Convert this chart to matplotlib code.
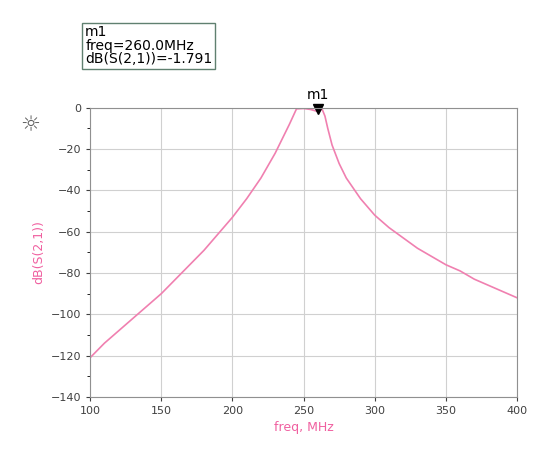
import matplotlib
matplotlib.use("Agg")
import matplotlib.pyplot as plt
from matplotlib.ticker import MultipleLocator

freq = [100, 110, 120, 130, 140, 150, 160, 170, 180, 190, 200, 210, 220, 230, 240, 245, 250, 255, 260, 263, 265, 267, 270, 275, 280, 290, 300, 310, 320, 330, 340, 350, 360, 370, 380, 390, 400]
s21 = [-121, -114, -108, -102, -96, -90, -83, -76, -69, -61, -53, -44, -34, -22, -8, -0.5, -0.3, -0.8, -1.791, -0.6, -4, -10, -18, -27, -34, -44, -52, -58, -63, -68, -72, -76, -79, -83, -86, -89, -92]

fig = plt.figure(figsize=(5.5, 4.73), dpi=100)
ax = fig.add_axes([0.164, 0.161, 0.776, 0.611])
ax.plot(freq, s21, color='#f080b0', lw=1.2)
ax.set_xlim(100, 400)
ax.set_ylim(-140, 0)
ax.xaxis.set_major_locator(MultipleLocator(50))
ax.yaxis.set_major_locator(MultipleLocator(20))
ax.yaxis.set_minor_locator(MultipleLocator(10))
ax.grid(True, color='#d0d0d0', lw=0.8)
for s in ax.spines.values():
    s.set_color('#909090')
ax.tick_params(labelsize=8, colors='#404040', length=3)
ax.tick_params(which='minor', length=2)
ax.set_xlabel('freq, MHz', color='#f060a0', fontsize=9)
ax.set_ylabel('dB(S(2,1))', color='#f060a0', fontsize=9)
ax.plot([260], [-0.5], marker='v', color='black', markersize=7, clip_on=False)
ax.text(260, 3, 'm1', ha='center', va='bottom', fontsize=10)
fig.text(0.155, 0.86, 'm1\nfreq=260.0MHz\ndB(S(2,1))=-1.791', fontsize=10, va='bottom', ha='left',
         linespacing=0.95, bbox=dict(facecolor='white', edgecolor='#608070', pad=2))
fig.text(0.055, 0.735, '☼', fontsize=16, color='#606060', ha='center', va='center')
fig.savefig('out.png', dpi=100)
